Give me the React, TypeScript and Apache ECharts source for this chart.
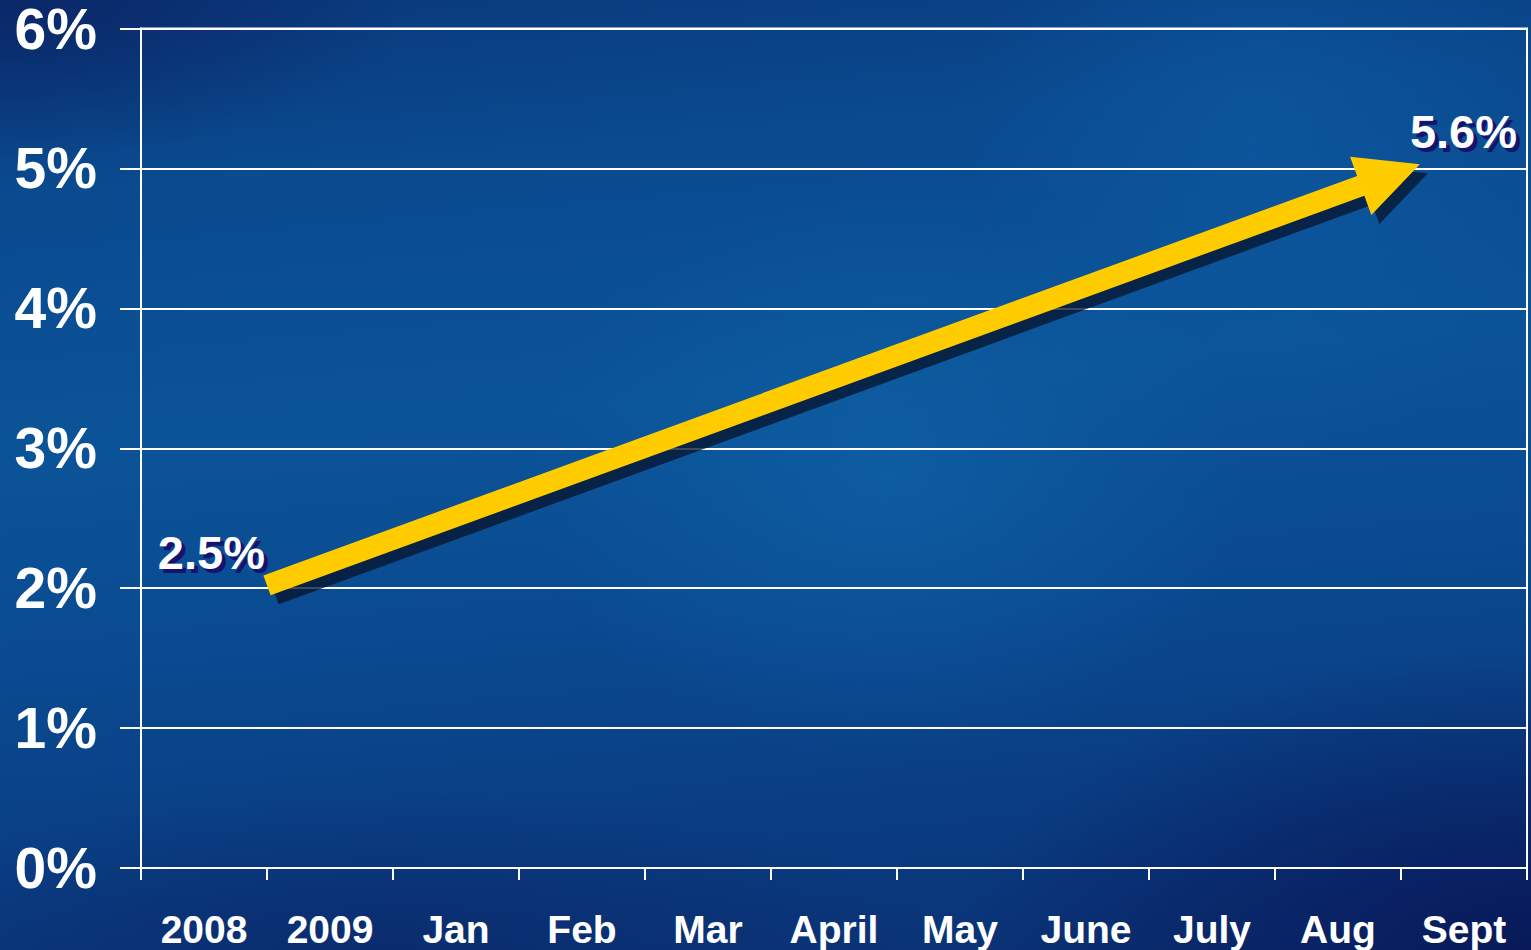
import React, { useEffect, useRef } from "react";
import * as echarts from "echarts";

const categories = ["2008", "2009", "Jan", "Feb", "Mar", "April", "May", "June", "July", "Aug", "Sept"];
const yTicks = [0, 1, 2, 3, 4, 5, 6];
// arrow drawn from the start point to the end point (x in category-boundary units, y in %)
const arrowStart = [1.0, 2.02];
const arrowEnd = [10.15, 5.03];
const startLabel = "2.5%";
const endLabel = "5.6%";

const FONT = "'Liberation Sans', Arial, Helvetica, sans-serif";

export default function App() {
  const ref = useRef<HTMLDivElement>(null);

  useEffect(() => {
    if (!ref.current) return;
    const chart = echarts.init(ref.current, null, { renderer: "svg" });

    const renderArrow = (params: any, api: any) => {
      const p0 = api.coord([api.value(0), api.value(1)]);
      const p1 = api.coord([api.value(2), api.value(3)]);
      const dx = p1[0] - p0[0];
      const dy = p1[1] - p0[1];
      const len = Math.sqrt(dx * dx + dy * dy);
      const ux = dx / len;
      const uy = dy / len;
      const nx = -uy;
      const ny = ux;
      const hw = 10.5;
      const hh = 31;
      const hl = 63;
      const bx = p1[0] - ux * hl;
      const by = p1[1] - uy * hl;
      const pts = [
        [p0[0] + nx * hw, p0[1] + ny * hw],
        [bx + nx * hw, by + ny * hw],
        [bx + nx * hh, by + ny * hh],
        [p1[0], p1[1]],
        [bx - nx * hh, by - ny * hh],
        [bx - nx * hw, by - ny * hw],
        [p0[0] - nx * hw, p0[1] - ny * hw],
      ];
      const shadowPts = pts.map((p) => [p[0] + 8, p[1] + 9]);
      const labelFont = `bold 47px ${FONT}`;
      const sx = 4;
      const sy = 4;
      const shadowFill = "#14146e";
      return {
        type: "group",
        children: [
          { type: "polygon", shape: { points: shadowPts }, style: { fill: "rgba(6,22,48,0.78)" } },
          { type: "polygon", shape: { points: pts }, style: { fill: "#FFCC00" } },
          {
            type: "text",
            silent: true,
            style: { text: startLabel, x: p0[0] - 2 + sx, y: p0[1] - 33 + sy, align: "right", verticalAlign: "middle", font: labelFont, fill: shadowFill },
          },
          {
            type: "text",
            style: { text: startLabel, x: p0[0] - 2, y: p0[1] - 33, align: "right", verticalAlign: "middle", font: labelFont, fill: "#ffffff" },
          },
          {
            type: "text",
            silent: true,
            style: { text: endLabel, x: p1[0] - 10 + sx, y: p1[1] - 33 + sy, align: "left", verticalAlign: "middle", font: labelFont, fill: shadowFill },
          },
          {
            type: "text",
            style: { text: endLabel, x: p1[0] - 10, y: p1[1] - 33, align: "left", verticalAlign: "middle", font: labelFont, fill: "#ffffff" },
          },
        ],
      };
    };

    chart.setOption({
      animation: false,
      backgroundColor: "transparent",
      grid: {
        left: 141,
        right: 4,
        top: 26,
        bottom: 82,
        show: true,
        borderColor: "#ffffff",
        borderWidth: 2,
        backgroundColor: "transparent",
      },
      xAxis: [
        {
          type: "category",
          data: categories,
          boundaryGap: true,
          axisLine: { show: true, lineStyle: { color: "#ffffff", width: 2 } },
          axisTick: { show: true, length: 12, lineStyle: { color: "#ffffff", width: 2 } },
          axisLabel: {
            interval: 0,
            color: "#ffffff",
            fontFamily: FONT,
            fontWeight: "bold",
            fontSize: 39,
            lineHeight: 39,
            margin: 42,
          },
          splitLine: { show: false },
        },
        {
          type: "value",
          min: 0,
          max: categories.length,
          show: false,
          splitLine: { show: false },
        },
      ],
      yAxis: {
        type: "value",
        min: yTicks[0],
        max: yTicks[yTicks.length - 1],
        interval: 1,
        axisLine: { show: true, lineStyle: { color: "#ffffff", width: 2 } },
        axisTick: { show: true, length: 21, lineStyle: { color: "#ffffff", width: 2 } },
        axisLabel: {
          color: "#ffffff",
          fontFamily: FONT,
          fontWeight: "bold",
          fontSize: 57,
          margin: 44,
          padding: [6, 0, 0, 0],
          formatter: "{value}%",
        },
        splitLine: { show: true, lineStyle: { color: "#ffffff", width: 2 } },
      },
      series: [
        {
          type: "custom",
          xAxisIndex: 1,
          yAxisIndex: 0,
          renderItem: renderArrow,
          data: [[arrowStart[0], arrowStart[1], arrowEnd[0], arrowEnd[1]]],
          clip: false,
          z: 10,
        },
      ],
    });

    return () => {
      chart.dispose();
    };
  }, []);

  const bg = [
    "radial-gradient(ellipse 520px 200px at 0% 0%, rgba(10,36,100,0.85), rgba(10,36,100,0) 80%)",
    "radial-gradient(ellipse 480px 380px at 58% 50%, rgba(16,102,172,0.55), rgba(16,102,172,0) 75%)",
    "radial-gradient(ellipse 380px 460px at 82% 14%, rgba(14,96,168,0.45), rgba(14,96,168,0) 75%)",
    "radial-gradient(ellipse 760px 400px at 100% 100%, rgba(8,24,88,0.95), rgba(8,24,88,0) 75%)",
    "radial-gradient(ellipse 700px 200px at 25% 100%, rgba(10,40,105,0.7), rgba(10,40,105,0) 80%)",
    "linear-gradient(175deg, #0a387b 0%, #0a4a8f 18%, #0b5398 42%, #0a4a90 62%, #0a3d83 82%, #0a3072 100%)",
  ].join(", ");

  return (
    <div
      style={{
        position: "absolute",
        left: 0,
        top: 0,
        width: 1531,
        height: 950,
        background: bg,
        overflow: "hidden",
      }}
    >
      <div ref={ref} style={{ width: 1531, height: 950 }} />
    </div>
  );
}
